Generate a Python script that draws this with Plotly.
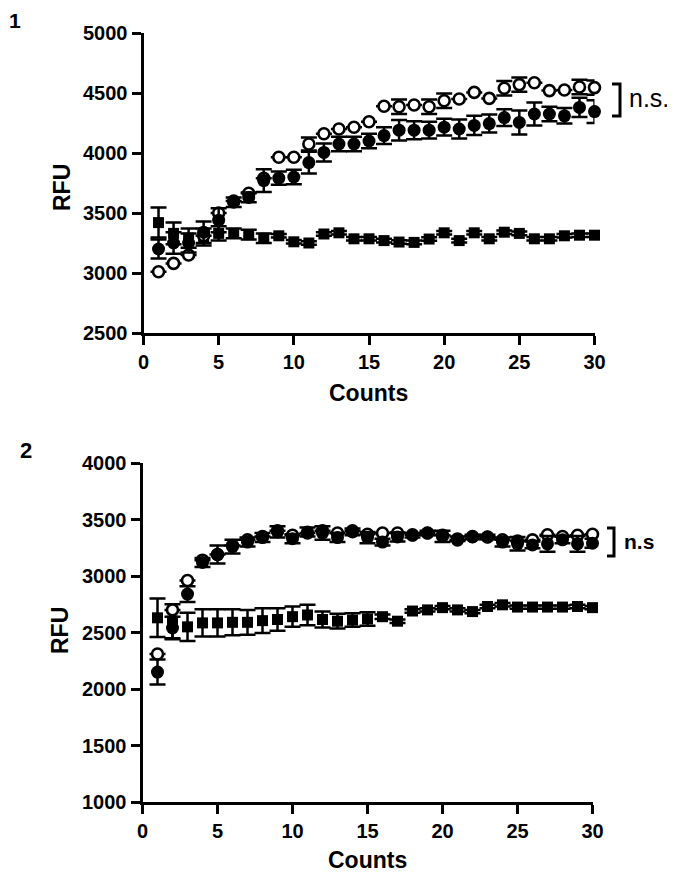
import plotly.graph_objects as go

counts = list(range(1, 31))

# ---- Panel 1 ----
p1_open = [3010, 3080, 3150, 3310, 3500, 3600, 3665, 3790, 3965, 3965, 4075, 4160, 4200, 4215, 4260,
           4390, 4385, 4400, 4385, 4435, 4450, 4505, 4455, 4540, 4570, 4585, 4520, 4525, 4550, 4545]
p1_open_err = [0, 0, 0, 0, 0, 0, 0, 0, 0, 0, 55, 0, 0, 0, 0,
               0, 60, 0, 60, 60, 0, 0, 0, 60, 60, 0, 0, 0, 60, 60]
p1_filled = [3200, 3250, 3250, 3340, 3440, 3590, 3630, 3770, 3790, 3800, 3920, 4005, 4075, 4075, 4100,
             4145, 4190, 4190, 4190, 4215, 4200, 4230, 4245, 4295, 4255, 4325, 4325, 4310, 4380, 4345]
p1_filled_err = [80, 90, 80, 90, 100, 40, 40, 95, 55, 60, 90, 75, 60, 60, 60,
                 70, 85, 75, 70, 70, 80, 80, 75, 70, 100, 95, 60, 65, 80, 95]
p1_square = [3420, 3330, 3290, 3300, 3330, 3330, 3320, 3290, 3310, 3260, 3250, 3325, 3335, 3285, 3285,
             3270, 3258, 3255, 3283, 3335, 3270, 3335, 3285, 3340, 3330, 3285, 3285, 3310, 3315, 3315]
p1_square_err = [125, 90, 80, 70, 60, 40, 40, 40, 15, 15, 15, 15, 15, 15, 15,
                 15, 15, 15, 15, 15, 15, 15, 15, 15, 15, 15, 15, 15, 15, 15]

# ---- Panel 2 ----
p2_open = [2310, 2700, 2960, 3140, 3190, 3270, 3320, 3350, 3400, 3360, 3380, 3400, 3380, 3400, 3370,
           3380, 3380, 3365, 3380, 3360, 3320, 3350, 3345, 3320, 3310, 3320, 3365, 3350, 3360, 3370]
p2_open_err = [0] * 30
p2_filled = [2150, 2540, 2840, 3120, 3190, 3260, 3300, 3340, 3390, 3330, 3390, 3380, 3340, 3390, 3340,
             3300, 3345, 3360, 3380, 3350, 3330, 3345, 3345, 3300, 3285, 3275, 3285, 3320, 3285, 3290]
p2_filled_err = [110, 100, 70, 40, 80, 60, 40, 40, 50, 40, 40, 60, 40, 30, 50,
                 30, 40, 20, 20, 50, 20, 20, 20, 40, 60, 30, 70, 30, 70, 40]
p2_square = [2630, 2600, 2550, 2585, 2585, 2590, 2590, 2605, 2615, 2640, 2655, 2615, 2600, 2610, 2620,
             2640, 2600, 2690, 2700, 2720, 2700, 2685, 2730, 2745, 2725, 2725, 2725, 2725, 2730, 2720]
p2_square_err = [170, 150, 125, 120, 120, 115, 110, 110, 100, 90, 90, 70, 65, 60, 60,
                 20, 15, 15, 15, 15, 15, 15, 15, 15, 15, 15, 15, 15, 15, 15]

y1_ticks = [2500, 3000, 3500, 4000, 4500, 5000]
y2_ticks = [1000, 1500, 2000, 2500, 3000, 3500, 4000]
x_ticks = [0, 5, 10, 15, 20, 25, 30]

FONT = "Liberation Sans, Arial, Helvetica, sans-serif"

def err(arr):
    return dict(type="data", array=arr, color="black", thickness=2.5, width=8)

fig = go.Figure()

def add_panel(xa, ya, sq, sqe, fi, fie, op, ope):
    fig.add_trace(go.Scatter(x=counts, y=sq, mode="markers", xaxis=xa, yaxis=ya,
                             marker=dict(symbol="square", size=11, color="black", line=dict(width=0)),
                             error_y=err(sqe), cliponaxis=False))
    fig.add_trace(go.Scatter(x=counts, y=op, mode="markers", xaxis=xa, yaxis=ya,
                             marker=dict(symbol="circle", size=11, color="white",
                                         line=dict(width=2.6, color="black")),
                             error_y=err(ope), cliponaxis=False))
    fig.add_trace(go.Scatter(x=counts, y=fi, mode="markers", xaxis=xa, yaxis=ya,
                             marker=dict(symbol="circle", size=13, color="black", line=dict(width=0)),
                             error_y=err(fie), cliponaxis=False))

add_panel("x", "y", p1_square, p1_square_err, p1_filled, p1_filled_err, p1_open, p1_open_err)
add_panel("x2", "y2", p2_square, p2_square_err, p2_filled, p2_filled_err, p2_open, p2_open_err)

# page body has an 8px default margin; lay out in window pixels and compensate
OFF = 8
W, H = 675 - OFF, 874 - OFF
def px(v): return (v - OFF) / W
def py(v): return 1 - (v - OFF) / H

def bold(vals):
    return [f"<b>{v}</b>" for v in vals]

axis_common = dict(showline=True, linewidth=3, linecolor="black", ticks="outside",
                   ticklen=9, tickwidth=3, tickcolor="black", showgrid=False, zeroline=False,
                   automargin=False,
                   tickfont=dict(family=FONT, size=20, color="black"))

fig.update_layout(
    width=W, height=H, margin=dict(l=0, r=0, t=0, b=0, pad=0, autoexpand=False),
    paper_bgcolor="white", plot_bgcolor="white", showlegend=False,
    font=dict(family=FONT, color="black"),
    xaxis=dict(domain=[px(143.5), px(594.5)], range=[0, 30], tickvals=x_ticks,
               ticktext=bold(x_ticks), anchor="y", **axis_common),
    yaxis=dict(domain=[py(333), py(33)], range=[2500, 5000], tickvals=y1_ticks,
               ticktext=bold(y1_ticks), anchor="x", **axis_common),
    xaxis2=dict(domain=[px(142.5), px(592.5)], range=[0, 30], tickvals=x_ticks,
                ticktext=bold(x_ticks), anchor="y2", **axis_common),
    yaxis2=dict(domain=[py(802), py(463)], range=[1000, 4000], tickvals=y2_ticks,
                ticktext=bold(y2_ticks), anchor="x2", **axis_common),
)

title_font = dict(family=FONT, size=23, color="black")
def ann(text, x, y, font, xanchor="center", yanchor="middle", angle=0, pad=1):
    return dict(text=text, x=px(x), y=py(y), xref="paper", yref="paper", showarrow=False,
                xanchor=xanchor, yanchor=yanchor, textangle=angle, font=font, borderpad=pad)

annotations = [
    ann("<b>1</b>", 15, 8.5, dict(family=FONT, size=21, color="black"), yanchor="top", pad=0),
    ann("<b>2</b>", 26, 450, dict(family=FONT, size=22, color="black")),
    ann("<b>RFU</b>", 62, 187, title_font, angle=-90),
    ann("<b>RFU</b>", 60, 631, title_font, angle=-90),
    ann("<b>Counts</b>", 368, 393, title_font),
    ann("<b>Counts</b>", 367, 860, title_font),
    ann("n.s.", 627, 98, dict(family=FONT, size=25, color="black"), xanchor="left"),
    ann("<b>n.s</b>", 622, 541, dict(family=FONT, size=21, color="black"), xanchor="left"),
]
fig.update_layout(annotations=annotations)

# significance brackets
shapes = [
    dict(type="path", xref="paper", yref="paper",
         path=f"M {px(612)} {py(84)} L {px(620)} {py(84)} L {px(620)} {py(116)} L {px(612)} {py(116)}",
         line=dict(color="black", width=3)),
    dict(type="path", xref="paper", yref="paper",
         path=f"M {px(607)} {py(528)} L {px(614)} {py(528)} L {px(614)} {py(556)} L {px(607)} {py(556)}",
         line=dict(color="black", width=3)),
]
fig.update_layout(shapes=shapes)

fig.write_html("out.html")
